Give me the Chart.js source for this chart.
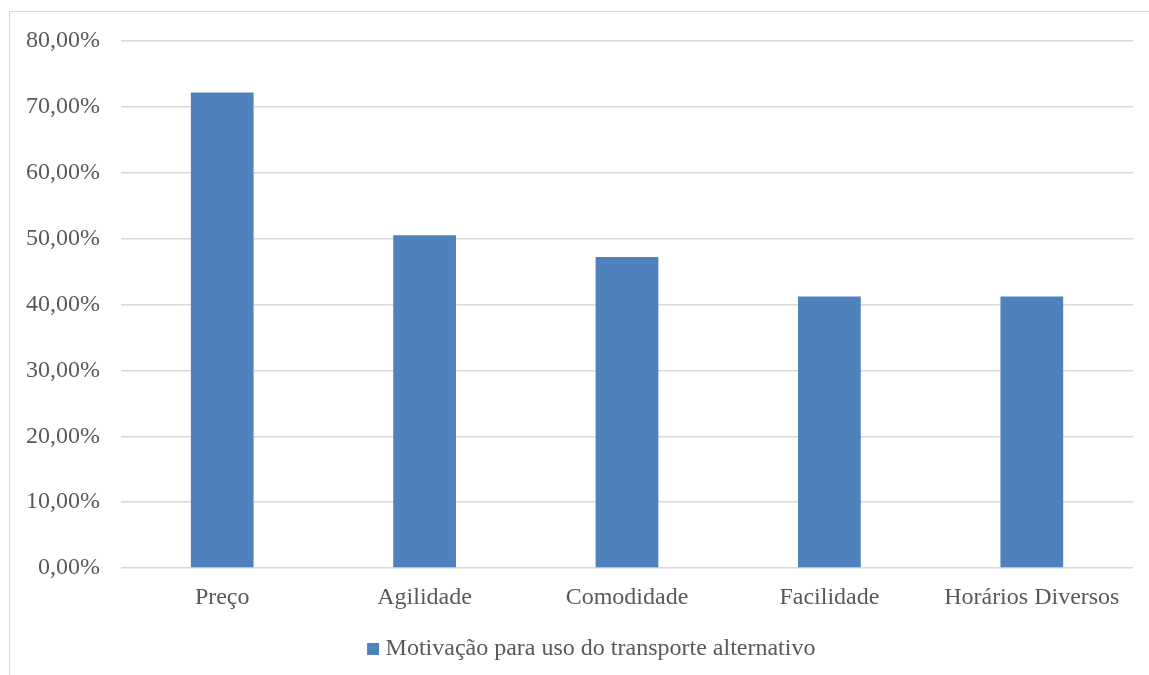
<!DOCTYPE html>
<html>
<head>
<meta charset="utf-8">
<script src="https://cdn.jsdelivr.net/npm/chart.js@4/dist/chart.umd.min.js"></script>
<style>
    html, body { margin: 0; padding: 0; background: #fff; overflow: hidden; }
    #frame {
        position: absolute; left: 9px; top: 11px;
        width: 1162px; height: 680px;
        border: 1px solid #d9d9d9;
    }
    #frame canvas { display: block; }
</style>
</head>
<body>
<div id="frame"><canvas id="MotivChart" width="1162" height="664"></canvas></div>
<script>
var categories = ['Preço', 'Agilidade', 'Comodidade', 'Facilidade', 'Horários Diversos'];
var motivacao = [72.2, 50.5, 47.2, 41.2, 41.2];
var seriesLabel = 'Motivação para uso do transporte alternativo';

var textColor = '#595959';
var gridColor = '#d9d9d9';
var barColor = '#4f81bd';

Chart.defaults.font.family = '"Liberation Serif", "Times New Roman", serif';
Chart.defaults.font.size = 24;
Chart.defaults.color = textColor;

// legend is centred on the whole canvas, not only on the padded area
var legendCenter = {
    id: 'legendCenter',
    afterLayout: function (chart) {
        chart.legend.left = 6;
        chart.legend.right = chart.width;
    }
};

var myBarChart = new Chart(document.getElementById('MotivChart'), {
    type: 'bar',
    data: {
        labels: categories,
        datasets: [{
            label: seriesLabel,
            data: motivacao,
            backgroundColor: barColor,
            borderWidth: 0,
            categoryPercentage: 1,
            barPercentage: 0.31
        }]
    },
    plugins: [legendCenter],
    options: {
        responsive: false,
        animation: false,
        events: [],
        layout: { padding: { top: 29, right: 39, bottom: 5, left: 0 } },
        plugins: {
            tooltip: { enabled: false },
            legend: {
                position: 'bottom',
                labels: {
                    usePointStyle: true,
                    pointStyle: 'rect',
                    boxWidth: 1,
                    boxHeight: 12,
                    color: textColor,
                    padding: 10
                }
            }
        },
        scales: {
            x: {
                grid: { display: false },
                border: { display: false },
                ticks: { padding: 7, color: textColor, maxRotation: 0 },
                afterFit: function (scale) { scale.height = 59; }
            },
            y: {
                min: 0,
                max: 80,
                grid: { color: gridColor, lineWidth: 1.5, drawTicks: false },
                border: { display: false },
                ticks: {
                    stepSize: 10,
                    padding: 21,
                    color: textColor,
                    font: { lineHeight: 0.5 },
                    callback: function (v) { return v.toFixed(2).replace('.', ',') + '%'; }
                },
                afterFit: function (scale) { scale.width = 111; }
            }
        }
    }
});
</script>
</body>
</html>
